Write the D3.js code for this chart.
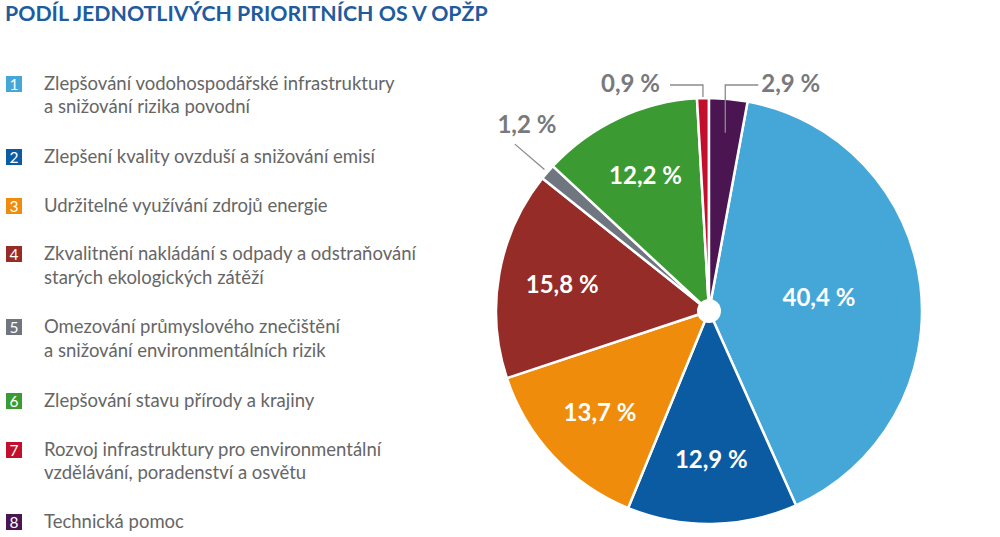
<!DOCTYPE html>
<html><head><meta charset="utf-8">
<script src="https://cdn.jsdelivr.net/npm/d3@7"></script>
<style>body{margin:0;background:#fff}svg{display:block}</style>
</head><body>
<svg id="chart" width="1000" height="537"></svg>
<script>
const title = "PODÍL JEDNOTLIVÝCH PRIORITNÍCH OS V OPŽP";
const axisNumbers = ["1","2","3","4","5","6","7","8"];
const categories = [
  ["Zlepšování vodohospodářské infrastruktury","a snižování rizika povodní"],
  ["Zlepšení kvality ovzduší a snižování emisí"],
  ["Udržitelné využívání zdrojů energie"],
  ["Zkvalitnění nakládání s odpady a odstraňování","starých ekologických zátěží"],
  ["Omezování průmyslového znečištění","a snižování environmentálních rizik"],
  ["Zlepšování stavu přírody a krajiny"],
  ["Rozvoj infrastruktury pro environmentální","vzdělávání, poradenství a osvětu"],
  ["Technická pomoc"]
];
const values = [40.4, 12.9, 13.7, 15.8, 1.2, 12.2, 0.9, 2.9];
const valueLabels = ["40,4 %","12,9 %","13,7 %","15,8 %","1,2 %","12,2 %","0,9 %","2,9 %"];
const colors = ["#45a7d7","#0a5ba2","#ef8c0b","#952c28","#6f7680","#3b9b32","#c2102c","#4a1551"];

const svg = d3.select("#chart");
const font = "Lato, 'Open Sans', sans-serif";

svg.append("text").attr("x",5).attr("y",21)
  .attr("font-family",font).attr("font-weight","bold").attr("font-size",21.3)
  .attr("fill","#1f5b9d").text(title);

// legend
const legendLines = [[90,113],[163],[212],[260,284],[333,357],[407],[456,479],[528]];
const legend = svg.append("g");
categories.forEach((lines,i)=>{
  const y0 = legendLines[i][0];
  legend.append("rect").attr("x",6).attr("y",y0-14).attr("width",16).attr("height",16)
    .attr("fill",colors[i]);
  legend.append("text").attr("x",14).attr("y",y0).attr("text-anchor","middle")
    .attr("font-family",font).attr("font-size",15.5).attr("fill","#fff").text(axisNumbers[i]);
  lines.forEach((t,j)=>{
    legend.append("text").attr("x",44).attr("y",legendLines[i][j])
      .attr("font-family",font).attr("font-size",18.5).attr("fill","#666")
      .text(t);
  });
});

// pie
const cx = 709, cy = 311, R = 213;
const total = d3.sum(values);
const start = values[7]/total*2*Math.PI;
const pie = d3.pie().sort(null).value(d=>d).startAngle(start).endAngle(start+2*Math.PI);
const arcs = pie(values);
const arc = d3.arc().innerRadius(0).outerRadius(R);
const g = svg.append("g").attr("transform",`translate(${cx},${cy})`);
g.selectAll("path").data(arcs).join("path")
  .attr("d",arc).attr("fill",(d,i)=>colors[i])
  .attr("stroke","#fff").attr("stroke-width",2.5).attr("stroke-linejoin","round");
g.append("circle").attr("r",12).attr("fill","#fff");

const pt = (a,r)=>[Math.sin(a)*r, -Math.cos(a)*r];
arcs.forEach((d,i)=>{
  const mid = (d.startAngle+d.endAngle)/2;
  const pct = values[i];
  if (pct >= 5) {
    const r = pct > 30 ? R*0.52 : R*0.7;
    const [x,y] = pt(mid,r);
    g.append("text").attr("x",x).attr("y",y+8).attr("text-anchor","middle")
      .attr("font-family",font).attr("font-weight","bold").attr("font-size",24)
      .attr("fill","#fff").text(valueLabels[i]);
  }
});

// outside labels with leader lines
const lineColor = "#8a8a8a", outColor = "#77797c";
const topY = -R - 13;
function outText(x,y,anchor,t){
  g.append("text").attr("x",x).attr("y",y).attr("text-anchor",anchor)
    .attr("font-family",font).attr("font-weight","bold").attr("font-size",24)
    .attr("fill",outColor).text(t);
}
// slice 7 (0,9 %)
{
  const d = arcs[6], mid=(d.startAngle+d.endAngle)/2;
  const [x,y] = pt(mid,R+1);
  g.append("path").attr("d",`M${x},${y}V${topY}h-33`).attr("fill","none")
    .attr("stroke",lineColor).attr("stroke-width",1.3);
  outText(x-43, topY+7, "end", valueLabels[6]);
}
// slice 8 (2,9 %)
{
  const d = arcs[7], mid=(d.startAngle+d.endAngle)/2;
  const [x,y] = pt(mid,R*0.84);
  g.append("path").attr("d",`M${x},${y}V${topY}h33`).attr("fill","none")
    .attr("stroke",lineColor).attr("stroke-width",1.3);
  outText(x+36, topY+7, "start", valueLabels[7]);
}
// slice 5 (1,2 %)
{
  const d = arcs[4], mid=(d.startAngle+d.endAngle)/2;
  const [x1,y1] = pt(mid,R+4), [x2,y2] = pt(mid,R+43);
  g.append("line").attr("x1",x1).attr("y1",y1).attr("x2",x2).attr("y2",y2)
    .attr("stroke",lineColor).attr("stroke-width",1.3);
  outText(x2+12, y2-11, "middle", valueLabels[4]);
}
</script>
</body></html>
